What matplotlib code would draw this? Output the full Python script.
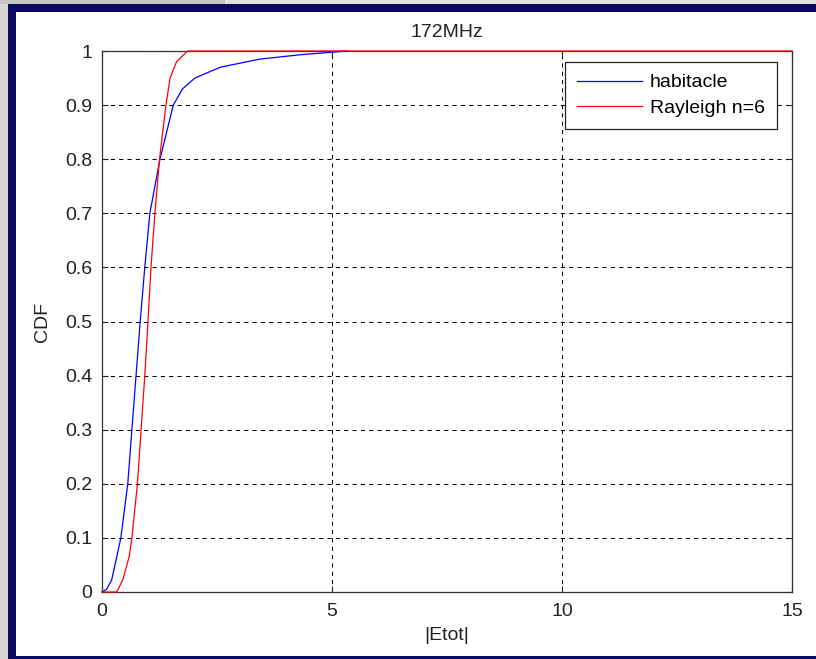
import matplotlib
matplotlib.use("Agg")
import matplotlib.pyplot as plt
from matplotlib.patches import Rectangle

# ---- data ----
hab_x = [0.0, 0.1, 0.21, 0.32, 0.41, 0.56, 0.65, 0.74, 0.83, 0.93, 1.04, 1.26,
         1.55, 1.75, 2.02, 2.57, 3.43, 4.3, 5.32]
hab_y = [0.0, 0.005, 0.022, 0.065, 0.1, 0.2, 0.3, 0.4, 0.5, 0.6, 0.7, 0.8,
         0.9, 0.93, 0.95, 0.97, 0.985, 0.993, 1.0]

ray_x = [0.0, 0.32, 0.45, 0.59, 0.65, 0.77, 0.85, 0.93, 1.0, 1.065, 1.15, 1.25,
         1.39, 1.48, 1.62, 1.86, 15.0]
ray_y = [0.0, 0.0, 0.022, 0.065, 0.1, 0.2, 0.3, 0.4, 0.5, 0.6, 0.7, 0.8,
         0.9, 0.95, 0.98, 1.0, 1.0]

x_ticks = [0, 5, 10, 15]
y_ticks = [0, 0.1, 0.2, 0.3, 0.4, 0.5, 0.6, 0.7, 0.8, 0.9, 1]
y_tick_labels = ["0", "0.1", "0.2", "0.3", "0.4", "0.5", "0.6", "0.7", "0.8", "0.9", "1"]
series_labels = ["habitacle", "Rayleigh n=6"]
title = "172MHz"
xlabel = "|Etot|"
ylabel = "CDF"

plt.rcParams["font.family"] = ["Liberation Sans", "DejaVu Sans"]
FS = 14

W, H = 816, 659
fig = plt.figure(figsize=(W / 100, H / 100), dpi=100, facecolor="white")

# window frame decorations (figure pixel coords)
def px_rect(x0, y0, x1, y1, color):
    fig.patches.append(Rectangle((x0 / W, 1 - y1 / H), (x1 - x0) / W, (y1 - y0) / H,
                                 transform=fig.transFigure, color=color, zorder=0, lw=0))

px_rect(0, 0, 225, 4, "#c4c4c4")
px_rect(225, 0, W, 4, "#e2e2e2")
px_rect(0, 4, 8, H, "#d6d6d6")
px_rect(8, 4, W, 12, "#0a0a62")
px_rect(8, 4, 16, H, "#0a0a62")
px_rect(8, 656, W, H, "#0a0a62")

ax = fig.add_axes([102 / W, 1 - 592 / H, 690 / W, 541 / H])
ax.set_facecolor("white")

ax.plot(hab_x, hab_y, color="#0000ff", lw=0.9, label=series_labels[0], zorder=3,
        clip_on=False)
ax.plot(ray_x, ray_y, color="#ff0000", lw=0.9, label=series_labels[1], zorder=3,
        clip_on=False)

ax.set_xlim(0, 15)
ax.set_ylim(0, 1)
ax.set_xticks(x_ticks)
ax.set_xticklabels([str(t) for t in x_ticks])
ax.set_yticks(y_ticks)
ax.set_yticklabels(y_tick_labels)
ax.tick_params(direction="in", length=4, width=0.8, colors="#222222",
               labelsize=FS, labelcolor="#222222", top=True, right=True)
ax.tick_params(axis="x", pad=8)
ax.tick_params(axis="y", pad=7)
for s in ax.spines.values():
    s.set_color("#333333")
    s.set_linewidth(0.9)

ax.grid(True, color="black", linestyle=(0, (4, 4)), linewidth=0.75)
ax.set_axisbelow(True)

ax.set_title(title, fontsize=FS, color="#222222", pad=10)
ax.set_xlabel(xlabel, fontsize=FS, color="#222222", labelpad=5)
ax.set_ylabel(ylabel, fontsize=FS, color="#222222", labelpad=10)

leg = ax.legend(loc="upper right", bbox_to_anchor=(0.978, 0.98), borderaxespad=0,
                fontsize=FS, frameon=True, fancybox=False, shadow=False,
                handlelength=3.3, handletextpad=0.42, borderpad=0.62, labelspacing=0.42)
leg.get_frame().set_edgecolor("#222222")
leg.get_frame().set_linewidth(0.9)
leg.get_frame().set_alpha(1)
leg.set_zorder(5)

fig.savefig("out.png", dpi=100, facecolor="white")
